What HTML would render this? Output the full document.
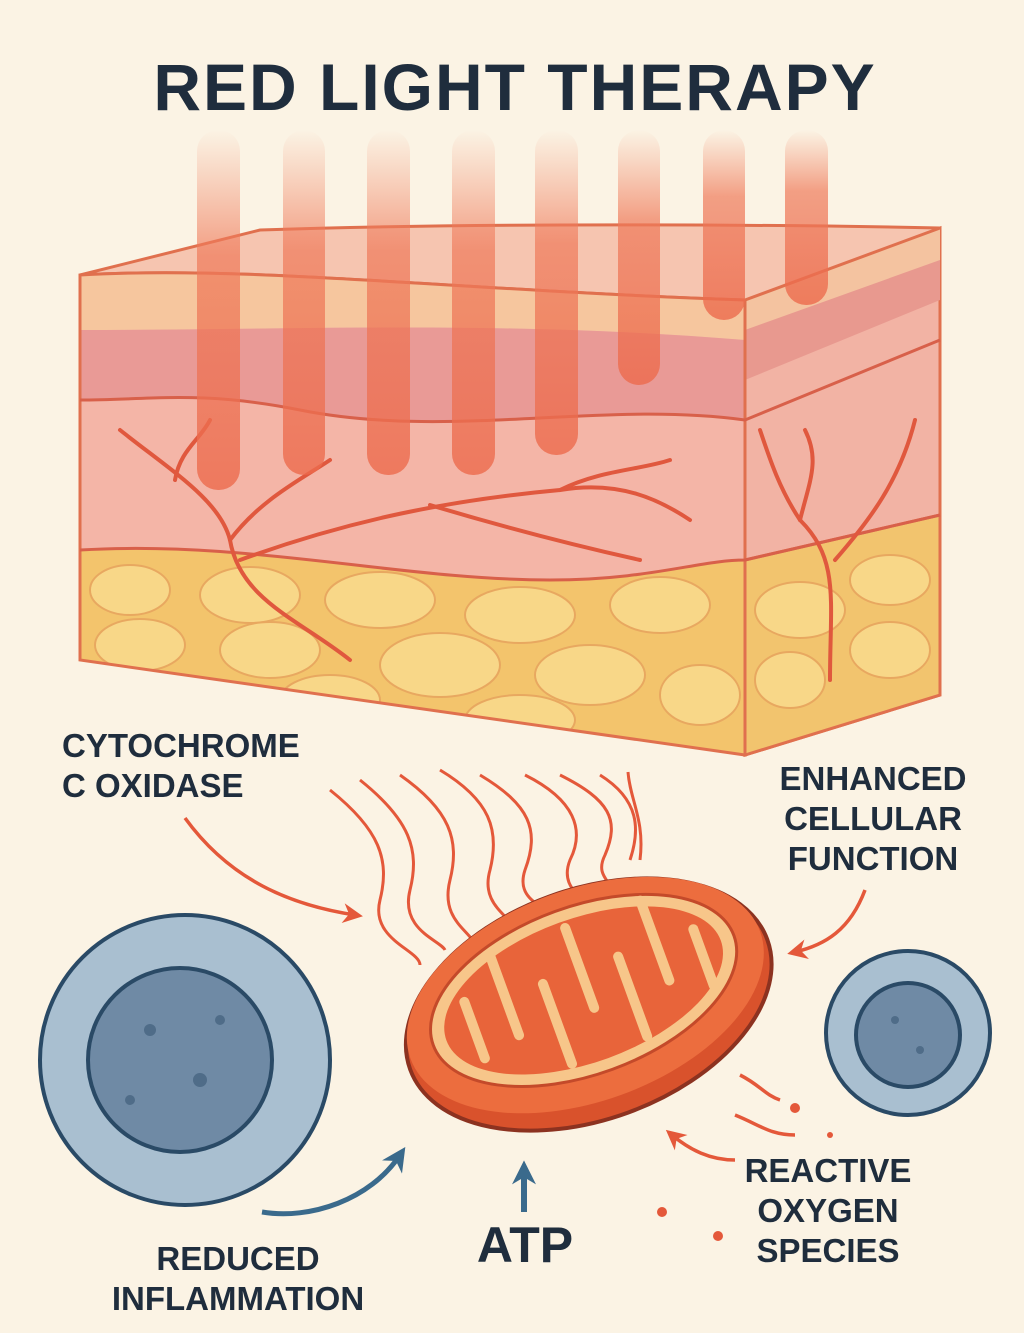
<!DOCTYPE html>
<html><head><meta charset="utf-8"><style>
html,body{margin:0;padding:0;background:#fbf3e4;}
svg{display:block;}
text{font-family:"Liberation Sans",sans-serif;font-weight:bold;fill:#1f2d3d;}
</style></head><body>
<svg width="1024" height="1333" viewBox="0 0 1024 1333" xmlns="http://www.w3.org/2000/svg">
<defs>
<linearGradient id="beam" x1="0" y1="0" x2="0" y2="1">
<stop offset="0" stop-color="#f08060" stop-opacity="0"/>
<stop offset="0.35" stop-color="#ef7a5a" stop-opacity="0.7"/>
<stop offset="1" stop-color="#ec6a4c" stop-opacity="0.8"/>
</linearGradient>
<clipPath id="front"><path d="M80,275 C250,265 450,290 745,300 L745,755 L80,660 Z"/></clipPath>
<marker id="ar" markerWidth="20" markerHeight="20" refX="6" refY="5" orient="auto" markerUnits="userSpaceOnUse" viewBox="0 0 10 10"><path d="M0,0 L10,5 L0,10 L3,5z" fill="#e4583a"/></marker>
<marker id="ab" markerWidth="24" markerHeight="24" refX="6" refY="5" orient="auto" markerUnits="userSpaceOnUse" viewBox="0 0 10 10"><path d="M0,0 L10,5 L0,10 L3,5z" fill="#3a6a8c"/></marker>
</defs>
<rect width="1024" height="1333" fill="#fbf3e4"/>
<text x="515" y="110" font-size="66" text-anchor="middle" letter-spacing="2">RED LIGHT THERAPY</text>

<!-- right side face -->
<path d="M745,300 L940,228 L940,695 L745,755 Z" fill="#f2b3a4" stroke="#e0704e" stroke-width="3"/>
<path d="M745,300 L940,228 L940,300 L745,380 Z" fill="#e8998f"/>
<path d="M745,300 L940,228 L940,260 L745,330 Z" fill="#f4c3a0"/>
<path d="M745,560 L940,515 L940,695 L745,755 Z" fill="#f2c46e" stroke="#e0704e" stroke-width="3"/>
<!-- top face -->
<path d="M80,275 C250,265 450,290 745,300 L940,228 C800,225 500,222 260,230 Z" fill="#f6c5b0" stroke="#e0704e" stroke-width="3"/>
<!-- front face -->
<g clip-path="url(#front)">
<rect x="80" y="260" width="665" height="500" fill="#f4b5a7"/>
<path d="M80,275 C250,265 450,290 745,300 L745,340 C500,320 300,330 80,330 Z" fill="#f6c69e"/>
<path d="M80,330 C300,330 500,320 745,340 L745,420 C600,400 450,440 300,410 C200,390 150,400 80,400 Z" fill="#e99a96"/>
<path d="M80,550 C250,540 400,580 550,580 C650,580 700,560 745,560 L745,760 L80,760 Z" fill="#f3c46c"/>
<g fill="#f8d788" stroke="#e8a860" stroke-width="2">
<ellipse cx="130" cy="590" rx="40" ry="25"/><ellipse cx="250" cy="595" rx="50" ry="28"/><ellipse cx="380" cy="600" rx="55" ry="28"/>
<ellipse cx="520" cy="615" rx="55" ry="28"/><ellipse cx="660" cy="605" rx="50" ry="28"/><ellipse cx="140" cy="645" rx="45" ry="26"/>
<ellipse cx="270" cy="650" rx="50" ry="28"/><ellipse cx="440" cy="665" rx="60" ry="32"/><ellipse cx="590" cy="675" rx="55" ry="30"/>
<ellipse cx="700" cy="695" rx="40" ry="30"/><ellipse cx="330" cy="700" rx="50" ry="25"/><ellipse cx="520" cy="720" rx="55" ry="25"/>
</g>
</g>
<g fill="#f8d788" stroke="#e8a860" stroke-width="2">
<ellipse cx="800" cy="610" rx="45" ry="28"/><ellipse cx="890" cy="580" rx="40" ry="25"/><ellipse cx="790" cy="680" rx="35" ry="28"/><ellipse cx="890" cy="650" rx="40" ry="28"/>
</g>
<path d="M80,275 C250,265 450,290 745,300 L745,755 L80,660 Z" fill="none" stroke="#e0704e" stroke-width="3"/>
<path d="M80,550 C250,540 400,580 550,580 C650,580 700,560 745,560 L940,515" fill="none" stroke="#d8604a" stroke-width="3"/>
<path d="M80,400 C150,400 200,390 300,410 C450,440 600,400 745,420 L940,340" fill="none" stroke="#d8604a" stroke-width="3"/>
<!-- vessels -->
<g fill="none" stroke="#e0583e" stroke-width="4" stroke-linecap="round">
<path d="M350,660 C300,620 240,600 230,540 C220,500 170,470 120,430"/>
<path d="M230,540 C260,500 300,480 330,460"/><path d="M175,480 C180,450 200,440 210,420"/>
<path d="M240,560 C350,520 450,500 560,490 C620,480 660,500 690,520"/>
<path d="M560,490 C600,470 640,470 670,460"/><path d="M430,505 C480,520 550,540 640,560"/>
<path d="M830,680 C830,600 840,560 800,520 C780,490 770,460 760,430"/><path d="M835,560 C870,520 900,480 915,420"/><path d="M800,520 C810,480 820,460 805,430"/>
</g>
<!-- beams -->
<g fill="url(#beam)">
<rect x="197" y="130" width="43" height="360" rx="21"/><rect x="283" y="130" width="42" height="345" rx="21"/>
<rect x="367" y="130" width="43" height="345" rx="21"/><rect x="452" y="130" width="43" height="345" rx="21"/>
<rect x="535" y="130" width="43" height="325" rx="21"/><rect x="618" y="130" width="42" height="255" rx="21"/>
<rect x="703" y="130" width="42" height="190" rx="21"/><rect x="785" y="130" width="43" height="175" rx="21"/>
</g>

<!-- labels -->
<g font-size="33">
<text x="62" y="757">CYTOCHROME</text><text x="62" y="797">C OXIDASE</text>
<text x="873" y="790" text-anchor="middle">ENHANCED</text><text x="873" y="830" text-anchor="middle">CELLULAR</text><text x="873" y="870" text-anchor="middle">FUNCTION</text>
<text x="828" y="1182" text-anchor="middle">REACTIVE</text><text x="828" y="1222" text-anchor="middle">OXYGEN</text><text x="828" y="1262" text-anchor="middle">SPECIES</text>
<text x="238" y="1270" text-anchor="middle">REDUCED</text><text x="238" y="1310" text-anchor="middle">INFLAMMATION</text>
</g>
<text x="525" y="1262" font-size="50" text-anchor="middle">ATP</text>

<!-- cells -->
<circle cx="185" cy="1060" r="145" fill="#a9bfd0" stroke="#2a4a66" stroke-width="4"/>
<circle cx="180" cy="1060" r="92" fill="#6f8aa5" stroke="#2a4a66" stroke-width="4"/>
<circle cx="908" cy="1033" r="82" fill="#a9bfd0" stroke="#2a4a66" stroke-width="4"/>
<circle cx="908" cy="1035" r="52" fill="#6f8aa5" stroke="#2a4a66" stroke-width="4"/>
<g fill="#4f6c88"><circle cx="150" cy="1030" r="6"/><circle cx="200" cy="1080" r="7"/><circle cx="130" cy="1100" r="5"/><circle cx="220" cy="1020" r="5"/><circle cx="895" cy="1020" r="4"/><circle cx="920" cy="1050" r="4"/></g>

<!-- wavy lines -->
<g fill="none" stroke="#e4583a" stroke-width="3">
<path d="M330,790 C380,830 390,860 380,900 C370,940 420,950 420,965"/>
<path d="M360,780 C410,820 420,850 410,890 C400,930 440,940 445,950"/>
<path d="M400,775 C450,810 460,840 450,880 C440,920 470,930 475,945"/>
<path d="M440,770 C490,800 500,830 490,870 C480,905 510,915 515,930"/>
<path d="M480,775 C530,805 540,830 525,870 C515,900 545,905 550,915"/>
<path d="M525,775 C575,800 585,830 570,860 C560,885 580,895 585,905"/>
<path d="M560,775 C610,800 620,820 605,855 C595,875 610,880 615,895"/>
<path d="M600,775 C640,800 640,830 630,860"/>
<path d="M628,772 C630,800 645,820 640,860"/>
</g>
<!-- mitochondrion -->
<g transform="rotate(-20 586 997)">
<ellipse cx="586" cy="1005" rx="190" ry="115" fill="#d9522c" stroke="#8c3220" stroke-width="4"/>
<ellipse cx="586" cy="995" rx="186" ry="106" fill="#ec6d3e"/>
<ellipse cx="586" cy="990" rx="160" ry="84" fill="#f7c68a" stroke="#c44a2a" stroke-width="3"/>
<ellipse cx="586" cy="990" rx="146" ry="72" fill="#e8643a"/>
<g fill="none" stroke="#f7c68a" stroke-width="10" stroke-linecap="round">
<path d="M470,960 L470,1020"/><path d="M510,925 L510,1010"/><path d="M550,970 L550,1055"/><path d="M590,925 L590,1010"/>
<path d="M630,970 L630,1055"/><path d="M670,925 L670,1010"/><path d="M710,970 L710,1030"/>
</g>
</g>

<!-- arrows -->
<g fill="none" stroke="#e4583a" stroke-width="3.5">
<path d="M185,818 C230,880 290,905 355,915" marker-end="url(#ar)"/>
<path d="M865,890 C850,930 825,945 795,952" marker-end="url(#ar)"/>
<path d="M735,1160 C710,1160 690,1150 672,1135" marker-end="url(#ar)"/>
<path d="M740,1075 C760,1085 765,1095 780,1100"/><path d="M735,1115 C760,1125 770,1135 795,1135"/>
</g>
<g fill="#e4583a"><circle cx="795" cy="1108" r="5"/><circle cx="830" cy="1135" r="3"/><circle cx="662" cy="1212" r="5"/><circle cx="718" cy="1236" r="5"/></g>
<path d="M262,1212 C310,1220 370,1200 400,1155" fill="none" stroke="#3a6a8c" stroke-width="5" marker-end="url(#ab)"/>
<path d="M524,1212 L524,1170" stroke="#3a6a8c" stroke-width="6" marker-end="url(#ab)"/>
</svg>
</body></html>
